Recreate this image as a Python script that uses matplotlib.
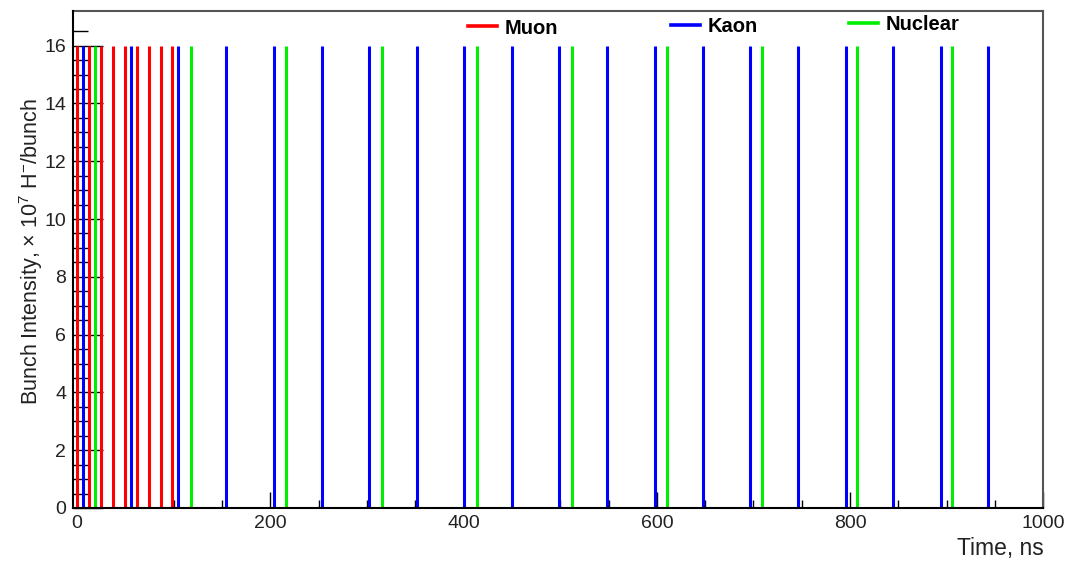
import matplotlib
matplotlib.use("Agg")
import numpy as np
import matplotlib.pyplot as plt
from matplotlib.lines import Line2D
from matplotlib.ticker import MultipleLocator, FixedLocator

plt.rcParams['font.family'] = ['Liberation Sans', 'DejaVu Sans']
plt.rcParams['mathtext.fontset'] = 'custom'
plt.rcParams['mathtext.rm'] = 'Liberation Sans'
plt.rcParams['mathtext.it'] = 'Liberation Sans:italic'
plt.rcParams['mathtext.bf'] = 'Liberation Sans:bold'

# ---- data (bunch arrival times in ns, intensity in 1e7 H-/bunch) ----
muon_times = [0.0, 12.3, 24.7, 37.0, 49.3, 61.6, 74.0, 86.3, 98.6]
muon_intensity = [16, 16, 16, 16, 16, 16, 16, 16, 16]

kaon_times = [6.2, 55.5, 104.8, 154.0, 203.7, 253.1, 302.4, 351.4, 400.5,
              449.8, 499.1, 548.1, 598.1, 647.5, 696.4, 746.4, 795.8,
              844.8, 893.8, 943.1]
kaon_intensity = [16, 16, 16, 16, 16, 16, 16, 16, 16, 16,
                  16, 16, 16, 16, 16, 16, 16, 16, 16, 16]

nuclear_times = [18.4, 117.4, 216.1, 315.2, 413.8, 512.2, 610.2, 709.2,
                 806.9, 905.2]
nuclear_intensity = [16, 16, 16, 16, 16, 16, 16, 16, 16, 16]

series_names = ["Muon", "Kaon", "Nuclear"]
series_colors = ["#ff0000", "#0000ff", "#00ee00"]

x_ticks = [0, 200, 400, 600, 800, 1000]
y_ticks = [0, 2, 4, 6, 8, 10, 12, 14, 16]

# ---- figure ----
W, H = 1071, 562
fig = plt.figure(figsize=(W / 100, H / 100), dpi=100)
ax = fig.add_axes([73.3 / W, 1 - 508 / H, (1043.3 - 73.3) / W, (508 - 11) / H])

lw_bar = 2.2
ax.vlines(muon_times, 0, muon_intensity, color=series_colors[0], lw=lw_bar, zorder=2)
ax.vlines(kaon_times, 0, kaon_intensity, color=series_colors[1], lw=lw_bar, zorder=2)
ax.vlines(nuclear_times, 0, nuclear_intensity, color=series_colors[2], lw=lw_bar, zorder=2)

ax.set_xlim(-4, 1000)
ax.set_ylim(0, 17.2)

ax.set_xticks(x_ticks)
ax.set_yticks(y_ticks)
ax.xaxis.set_minor_locator(MultipleLocator(50))
ax.yaxis.set_minor_locator(FixedLocator(np.arange(0.5, 16.6, 0.5)))

tick_fs = 14
ax.tick_params(axis='x', which='major', direction='in', length=11.5, width=1.0,
               color='black', labelsize=tick_fs, pad=5.0, top=False, labelcolor='#222222')
ax.tick_params(axis='x', which='minor', direction='in', length=5.8, width=1.0,
               color='black', top=False)
ax.tick_params(axis='y', which='major', direction='in', length=21.6, width=1.0,
               color='black', labelsize=tick_fs, pad=5.0, right=False, labelcolor='#222222')
ax.tick_params(axis='y', which='minor', direction='in', length=10.8, width=1.0,
               color='black', right=False)

for s in ['left', 'bottom']:
    ax.spines[s].set_linewidth(1.5)
    ax.spines[s].set_color('black')
    ax.spines[s].set_zorder(3)
for s in ['top', 'right']:
    ax.spines[s].set_linewidth(1.5)
    ax.spines[s].set_color('#555555')

ax.set_xlabel("Time, ns", fontsize=16.5, loc='right', color='#222222')
ax.xaxis.set_label_coords(1.0, -0.058)
ax.set_ylabel(r"Bunch Intensity, $\times$ 10$^{7}$ H$^{-}$/bunch", fontsize=15.5,
              color='#222222')
ax.yaxis.set_label_coords(-0.029, 0.516)

# ---- legend: three single-entry legends ----
leg_pos = [(468 / W, 1 - 28 / H), (671 / W, 1 - 27 / H), (849 / W, 1 - 25 / H)]
for name, col, pos in zip(series_names, series_colors, leg_pos):
    h = Line2D([], [], color=col, lw=2.6)
    lg = fig.legend([h], [name], loc='center left', bbox_to_anchor=pos,
                    bbox_transform=fig.transFigure, frameon=False,
                    borderpad=0, borderaxespad=0, handlelength=1.45,
                    handletextpad=0.35, prop={'weight': 'bold', 'size': 14.5})

fig.savefig("out.png", dpi=100, facecolor='white')
